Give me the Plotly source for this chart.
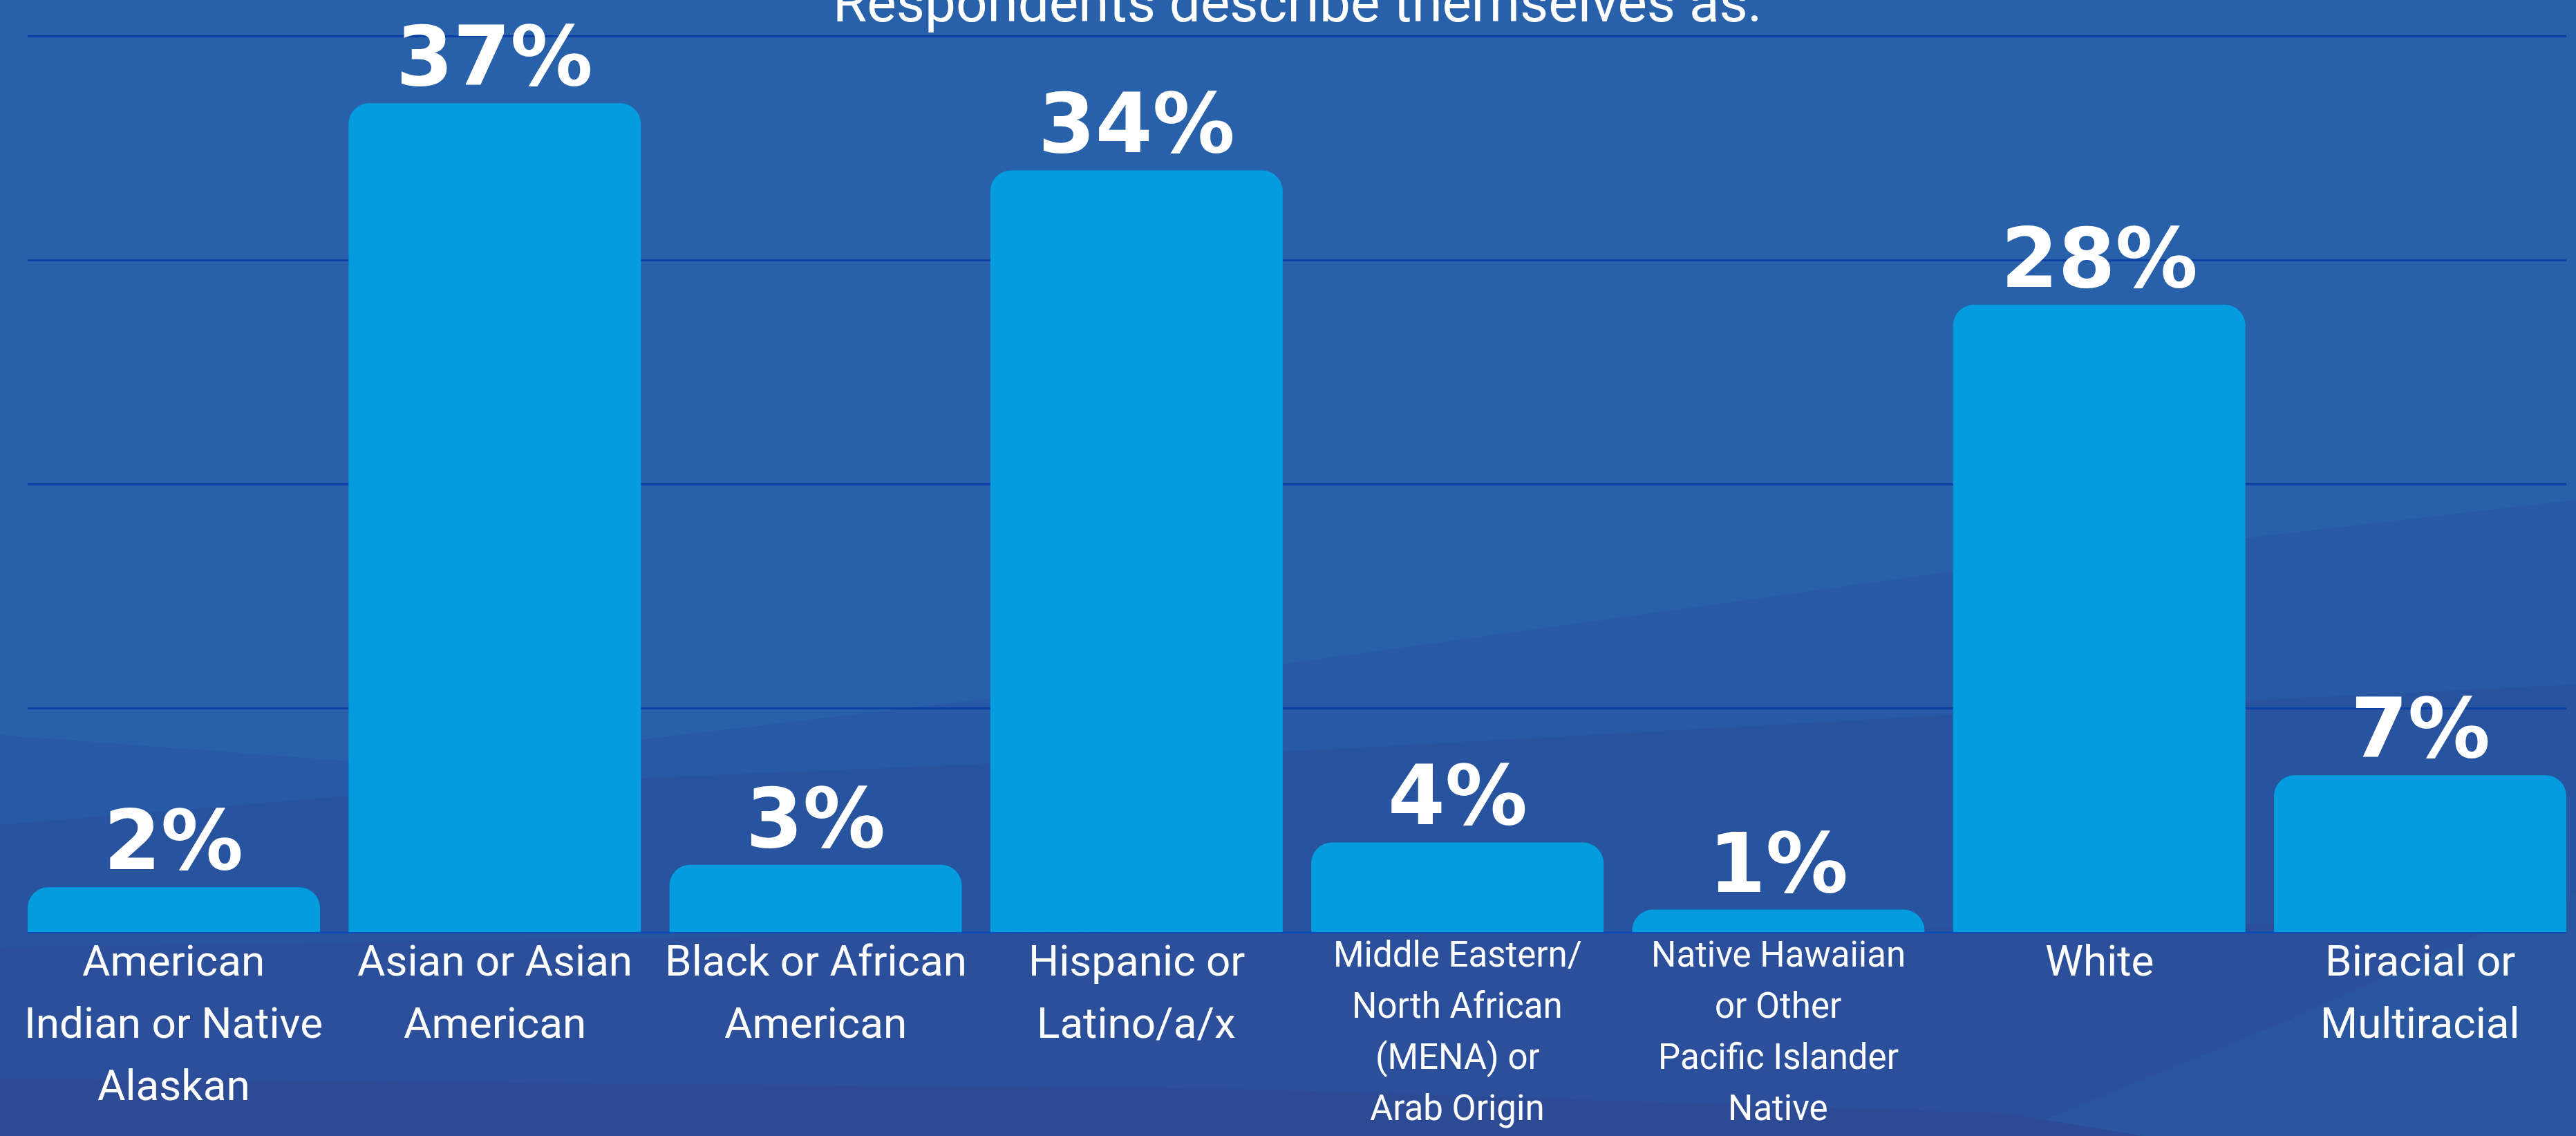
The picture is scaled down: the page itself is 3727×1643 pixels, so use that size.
import plotly.graph_objects as go

# ---- data -------------------------------------------------------------
categories = [
    "American Indian or Native Alaskan",
    "Asian or Asian American",
    "Black or African American",
    "Hispanic or Latino/a/x",
    "Middle Eastern/North African (MENA) or Arab Origin",
    "Native Hawaiian or Other Pacific Islander Native",
    "White",
    "Biracial or Multiracial",
]
percent = [2, 37, 3, 34, 4, 1, 28, 7]
label_lines = [
    ["American", "Indian or Native", "Alaskan"],
    ["Asian or Asian", "American"],
    ["Black or African", "American"],
    ["Hispanic or", "Latino/a/x"],
    ["Middle Eastern/", "North African", "(MENA) or", "Arab Origin"],
    ["Native Hawaiian", "or Other", "Pacific Islander", "Native"],
    ["White"],
    ["Biracial or", "Multiracial"],
]
title_text = "Respondents describe themselves as:"

# ---- geometry ---------------------------------------------------------
W, H = 3727, 1643
ML, MR, MT, MB = 40, 14, 0, 295
PLOT_W = W - ML - MR
PLOT_H = H - MT - MB
PX_PER_PCT = 32.4
Y_MAX = PLOT_H / PX_PER_PCT
EDGE = 0.0445  # half of the bar gap trimmed from each end of the x range

BAR_COLOR = "#039ddf"
GRID_COLOR = "#0a3fa6"
TEXT_FONT = "Roboto, 'Noto Sans', sans-serif"
VALUE_FONT = "'DejaVu Sans', Roboto, sans-serif"


def to_paper(pts):
    """Convert pixel points on the page into paper coordinates."""
    out = []
    for xp, yp in pts:
        out.append(((xp - ML) / PLOT_W, (H - MB - yp) / PLOT_H))
    return out


def poly_path(pts):
    pp = to_paper(pts)
    s = "M {:.5f},{:.5f}".format(*pp[0])
    for x, y in pp[1:]:
        s += " L {:.5f},{:.5f}".format(x, y)
    return s + " Z"


fig = go.Figure()

fig.add_trace(
    go.Bar(
        x=categories,
        y=percent,
        marker=dict(color=BAR_COLOR, line=dict(width=0), cornerradius=30),
        hoverinfo="skip",
    )
)

# value labels sitting just above each bar
for cat, v in zip(categories, percent):
    fig.add_annotation(
        x=cat,
        y=v,
        xref="x",
        yref="y",
        text=f"{v}%",
        showarrow=False,
        xanchor="center",
        yanchor="bottom",
        yshift=-4,
        font=dict(family=VALUE_FONT, size=119, color="white", weight="bold"),
    )

# soft wave bands in the background
bands = [
    ("#2759a6", [(0, 1063), (600, 1108), (1860, 960), (2800, 830), (W, 723), (W, H), (0, H)]),
    ("#28549f", [(0, 1193), (700, 1135), (1900, 1085), (2900, 1030), (W, 990), (W, H), (0, H)]),
    ("#2b4f9a", [(0, 1370), (1200, 1352), (2600, 1345), (W, 1330), (W, H), (0, H)]),
    ("#2a56a0", [(2900, H), (3300, 1480), (W, 1290), (W, H)]),
    ("#2d4b95", [(0, 1560), (1800, 1575), (2900, 1610), (3100, H), (0, H)]),
]
shapes = []
for color, pts in bands:
    shapes.append(
        dict(
            type="path",
            xref="paper",
            yref="paper",
            path=poly_path(pts),
            fillcolor=color,
            line=dict(width=0),
            layer="below",
        )
    )

# category labels, one annotation per line under each bar
for cat, lines in zip(categories, label_lines):
    small = len(lines) > 3
    size = 51 if small else 62
    first = 32 if small else 41
    step = 74 if small else 90
    for j, line in enumerate(lines):
        fig.add_annotation(
            x=cat,
            y=0,
            xref="x",
            yref="y",
            text=line,
            showarrow=False,
            yanchor="middle",
            xanchor="center",
            yshift=-(first + j * step),
            font=dict(family=TEXT_FONT, size=size, color="white"),
        )

# heading, partly running off the top edge
fig.add_annotation(
    x=0.5,
    y=1,
    xref="paper",
    yref="paper",
    text=title_text,
    showarrow=False,
    xanchor="center",
    yanchor="top",
    yshift=45,
    font=dict(family=TEXT_FONT, size=80, color="white"),
)

fig.update_layout(
    width=W,
    height=H,
    margin=dict(l=ML, r=MR, t=MT, b=MB, pad=0),
    paper_bgcolor="#2861aa",
    plot_bgcolor="rgba(0,0,0,0)",
    bargap=0.089,
    showlegend=False,
    shapes=shapes,
    xaxis=dict(
        type="category",
        range=[-0.5 + EDGE, len(categories) - 0.5 - EDGE],
        showticklabels=False,
        showgrid=False,
        zeroline=False,
        showline=False,
        ticks="",
        fixedrange=True,
    ),
    yaxis=dict(
        range=[0, Y_MAX],
        dtick=10,
        showticklabels=False,
        showgrid=True,
        gridcolor=GRID_COLOR,
        gridwidth=2.5,
        zeroline=True,
        zerolinecolor="#0b4db5",
        zerolinewidth=3,
        showline=False,
        ticks="",
        fixedrange=True,
    ),
)

fig.write_html("out.html", config={"displayModeBar": False})
